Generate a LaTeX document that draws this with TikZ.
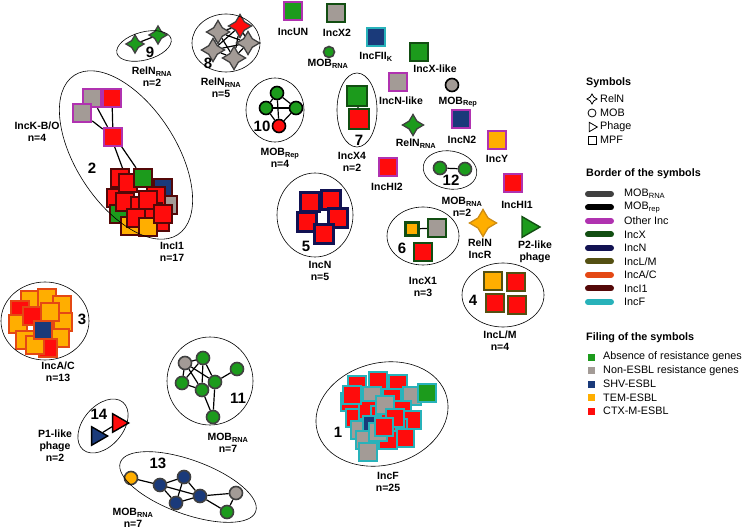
\documentclass[tikz,border=0pt]{standalone}
\usepackage{fontspec}
\setmainfont{Liberation Sans}
\usetikzlibrary{shapes.geometric, backgrounds}
\definecolor{fGreen}{RGB}{28,155,28}
\definecolor{fGray}{RGB}{163,155,150}
\definecolor{fBlue}{RGB}{26,58,122}
\definecolor{fOrange}{RGB}{255,174,0}
\definecolor{fRed}{RGB}{255,12,12}
\definecolor{bRNA}{RGB}{64,64,64}
\definecolor{bRep}{RGB}{0,0,0}
\definecolor{bOther}{RGB}{176,50,176}
\definecolor{bX}{RGB}{18,78,18}
\definecolor{bN}{RGB}{18,18,82}
\definecolor{bLM}{RGB}{84,80,18}
\definecolor{bAC}{RGB}{228,72,20}
\definecolor{bI}{RGB}{84,8,8}
\definecolor{bF}{RGB}{40,178,186}
\definecolor{bR}{RGB}{205,140,20}
\tikzset{
  lbl/.style={font=\fontsize{10.5}{12}\selectfont\bfseries, align=center, inner sep=0pt},
  num/.style={font=\fontsize{15}{15}\selectfont\bfseries, inner sep=0pt},
  hull/.style={draw, line width=0.6pt},
  mpf/.style={rectangle, draw, line width=2.4pt, minimum size=18pt, inner sep=0pt},
  mob/.style={circle, draw, line width=1.6pt, minimum size=13pt, inner sep=0pt},
  reln/.style={star, star points=4, star point ratio=1.9, draw, line width=1.3pt, minimum size=23pt, inner sep=0pt},
  phage/.style={isosceles triangle, isosceles triangle apex angle=60, draw, line width=1.4pt, minimum size=16pt, inner sep=0pt},
  link/.style={line width=1.2pt},
  keytxt/.style={font=\fontsize{10.8}{12}\selectfont, anchor=west, inner sep=0pt},
  keyhead/.style={font=\fontsize{10.8}{12}\selectfont\bfseries, anchor=west, inner sep=0pt},
  keymark/.style={draw, line width=0.8pt, inner sep=0pt}
}
\begin{document}
\begin{tikzpicture}[x=1pt, y=-1pt]
  \useasboundingbox (0,0) rectangle (747,529);

  % 9
  \node[reln, fill=fGreen, draw=bRNA, minimum size=18pt] (s9a) at (135,44) {};
  \node[reln, fill=fGreen, draw=bRNA, minimum size=18pt] (s9b) at (158,35) {};
  \node[num] (n9) at (150,52) {9};
  \node[lbl] (l9) at (152,77) {RelN\textsubscript{RNA}\\n=2};
  \draw[hull, rotate around={15:(144,46)}] (144,46) ellipse [x radius=28, y radius=14];

  % 8
  \foreach \p/\x/\y/\c in {a/218/32/fGray, b/240/26/fRed, c/213/50/fGray, d/234/58/fGray, e/248/43/fGray}
    \node[reln, fill=\c, draw=bRNA] (s8\p) at (\x,\y) {};
  \node[num] (n8) at (208,63) {8};
  \node[lbl] (l8) at (221,88) {RelN\textsubscript{RNA}\\n=5};
  \draw[hull] (226,43) ellipse [x radius=34, y radius=29];

  % 2 : IncK-B/O + IncI1
  \node[mpf, fill=fGray, draw=bOther] (k1) at (92,98) {};
  \node[mpf, fill=fRed, draw=bOther] (k2) at (112,98) {};
  \node[mpf, fill=fGray, draw=bOther] (k3) at (82,113) {};
  \node[mpf, fill=fRed, draw=bOther] (k4) at (113,137) {};
  \foreach \x/\y/\c [count=\i] in {120/178/fRed, 116/198/fRed, 163/188/fBlue, 168/205/fGray, 160/222/fRed,
      119/214/fGreen, 130/226/fOrange, 128/183/fRed, 156/196/fRed, 125/202/fRed, 140/206/fRed,
      153/212/fRed, 136/218/fRed, 148/227/fOrange, 143/178/fGreen, 148/200/fRed, 163/214/fRed}
    \node[mpf, fill=\c, draw=bI] (ia\i) at (\x,\y) {};
  \node[num] (n2) at (92,168) {2};
  \node[lbl] (l2a) at (37,132) {IncK-B/O\\n=4};
  \node[lbl] (l2b) at (172,252) {IncI1\\n=17};
  \draw[hull, rotate around={-57:(126,155)}] (126,155) ellipse [x radius=95, y radius=50];

  % singletons
  \node[mpf, fill=fGreen, draw=bOther] (un) at (293,11) {};
  \node[lbl] (lun) at (293,32) {IncUN};
  \node[mpf, fill=fGray, draw=bX] (x2) at (336,13) {};
  \node[lbl] (lx2) at (337,33) {IncX2};
  \node[mob, fill=fGreen, draw=bRNA, minimum size=11pt] (m1) at (329,52) {};
  \node[lbl] (lm1) at (328,64) {MOB\textsubscript{RNA}};
  \node[mpf, fill=fBlue, draw=bF] (fk) at (376,37) {};
  \node[lbl] (lfk) at (376,57) {IncFII\textsubscript{K}};
  \node[mpf, fill=fGreen, draw=bX] (xl) at (419,52) {};
  \node[lbl] (lxl) at (435,69) {IncX-like};
  \node[mpf, fill=fGray, draw=bOther] (nl) at (398,82) {};
  \node[lbl] (lnl) at (401,101) {IncN-like};
  \node[mob, fill=fGray, draw=bRep] (m2) at (452,85) {};
  \node[lbl] (lm2) at (458,102) {MOB\textsubscript{Rep}};
  \node[reln, fill=fGreen, draw=bRNA, minimum size=21pt] (rs) at (413,125) {};
  \node[lbl] (lrs) at (416,144) {RelN\textsubscript{RNA}};
  \node[mpf, fill=fBlue, draw=bOther] (n2b) at (461,119) {};
  \node[lbl] (ln2b) at (462,140) {IncN2};
  \node[mpf, fill=fRed, draw=bOther] (hi2) at (388,167) {};
  \node[lbl] (lhi2) at (387,187) {IncHI2};
  \node[mpf, fill=fOrange, draw=bOther] (iy) at (497,140) {};
  \node[lbl] (liy) at (497,159) {IncY};
  \node[mpf, fill=fRed, draw=bOther] (hi1) at (513,183) {};
  \node[lbl] (lhi1) at (517,205) {IncHI1};
  \node[reln, fill=fOrange, draw=bR, minimum size=27pt] (rr) at (483,223) {};
  \node[lbl] (lrr) at (480,249) {RelN\\IncR};
  \node[phage, fill=fGreen, draw=bX, minimum size=18pt] (p2) at (528,227) {};
  \node[lbl] (lp2) at (535,252) {P2-like\\phage};

  % 10
  \node[mob, fill=fGreen, draw=bRep] (c10a) at (277,93) {};
  \node[mob, fill=fGreen, draw=bRep] (c10b) at (266,108) {};
  \node[mob, fill=fGreen, draw=bRep] (c10c) at (296,108) {};
  \node[mob, fill=fRed, draw=bRep] (c10d) at (279,126) {};
  \node[num] (n10) at (262,126) {10};
  \node[lbl] (l10) at (280,158) {MOB\textsubscript{Rep}\\n=4};
  \draw[hull] (275,110) ellipse [x radius=29, y radius=32];

  % 7
  \node[mpf, fill=fGreen, draw=bX, minimum size=20pt] (q7a) at (357,96) {};
  \node[mpf, fill=fRed, draw=bX, minimum size=20pt] (q7b) at (359,119) {};
  \node[num] (n7) at (359,140) {7};
  \node[lbl] (l7) at (352,162) {IncX4\\n=2};
  \draw[hull] (357,110) ellipse [x radius=20, y radius=37];

  % 12
  \node[mob, fill=fGreen, draw=bRNA] (c12a) at (440,168) {};
  \node[mob, fill=fGreen, draw=bRNA] (c12b) at (465,169) {};
  \node[num] (n12) at (451,180) {12};
  \node[lbl] (l12) at (462,207) {MOB\textsubscript{RNA}\\n=2};
  \draw[hull, rotate around={-10:(450,170)}] (450,170) ellipse [x radius=27, y radius=19];

  % 5
  \foreach \x/\y [count=\i] in {310/202, 331/200, 307/222, 338/218, 324/234}
    \node[mpf, fill=fRed, draw=bN, minimum size=19pt] (q5\i) at (\x,\y) {};
  \node[num] (n5) at (306,246) {5};
  \node[lbl] (l5) at (320,271) {IncN\\n=5};
  \draw[hull] (315,215) ellipse [x radius=38, y radius=42];

  % 6
  \node[mpf, fill=fOrange, draw=bX, minimum size=13pt] (q6a) at (412,229) {};
  \node[mpf, fill=fGray, draw=bX] (q6b) at (437,228) {};
  \node[mpf, fill=fRed, draw=bX] (q6c) at (423,252) {};
  \node[num] (n6) at (402,248) {6};
  \node[lbl] (l6) at (423,287) {IncX1\\n=3};
  \draw[hull] (423,236) ellipse [x radius=36, y radius=29];

  % 4
  \foreach \x/\y/\c [count=\i] in {493/281/fOrange, 516/282/fRed, 495/303/fRed, 517/305/fRed}
    \node[mpf, fill=\c, draw=bLM] (q4\i) at (\x,\y) {};
  \node[num] (n4) at (473,300) {4};
  \node[lbl] (l4) at (500,341) {IncL/M\\n=4};
  \draw[hull] (503,295) ellipse [x radius=41, y radius=32];

  % 3
  \foreach \x/\y/\c [count=\i] in {30/300/fOrange, 47/298/fOrange, 62/305/fOrange, 20/310/fRed, 18/324/fOrange,
      63/322/fOrange, 32/316/fRed, 25/340/fOrange, 60/338/fOrange, 48/348/fRed, 35/345/fOrange,
      50/312/fOrange, 43/330/fBlue}
    \node[mpf, fill=\c, draw=bAC] (ac\i) at (\x,\y) {};
  \node[num] (n3) at (82,319) {3};
  \node[lbl] (l3) at (58,372) {IncA/C\\n=13};
  \draw[hull] (45,321) ellipse [x radius=44, y radius=39];

  % 14
  \node[phage, fill=fBlue, draw=black] (t14a) at (97,436) {};
  \node[phage, fill=fRed, draw=black] (t14b) at (118,423) {};
  \node[num] (n14) at (99,414) {14};
  \node[lbl] (l14) at (55,446) {P1-like\\phage\\n=2};
  \draw[hull, rotate around={50:(103,426)}] (103,426) ellipse [x radius=31, y radius=20];

  % 11
  \foreach \p/\x/\y/\c in {g/185/363/fGray, a/203/358/fGreen, c/237/369/fGreen, d/182/383/fGreen,
      e/202/390/fGreen, f/215/382/fGreen, h/213/417/fGreen}
    \node[mob, fill=\c, draw=bRNA] (c11\p) at (\x,\y) {};
  \node[num] (n11) at (238,398) {11};
  \node[lbl] (l11) at (228,443) {MOB\textsubscript{RNA}\\n=7};
  \draw[hull] (210,381) ellipse [x radius=43, y radius=44];

  % 13
  \foreach \p/\x/\y/\c in {o/131/478/fOrange, a/160/485/fBlue, b/184/477/fBlue, c/176/503/fBlue,
      d/200/496/fBlue, g/236/493/fGray, h/227/512/fGreen}
    \node[mob, fill=\c, draw=bRNA] (c13\p) at (\x,\y) {};
  \node[num] (n13) at (158,463) {13};
  \node[lbl] (l13) at (133,518) {MOB\textsubscript{RNA}\\n=7};
  \draw[hull, rotate around={-20:(188,487)}] (188,487) ellipse [x radius=72, y radius=27];

  % 1
  \foreach \x/\y/\c [count=\i] in {357/385/fRed, 378/381/fRed, 398/384/fRed, 350/402/fRed, 372/396/fGray,
      392/398/fRed, 412/396/fGray, 355/418/fRed, 368/410/fRed, 402/410/fRed, 360/430/fGray,
      380/415/fRed, 412/420/fRed, 372/425/fBlue, 398/428/fRed, 365/440/fGray, 405/438/fRed,
      388/440/fRed, 352/395/fRed, 385/405/fGray, 395/418/fRed, 378/432/fGray, 384/427/fRed,
      368/452/fGray, 427/393/fGreen}
    \node[mpf, fill=\c, draw=bF] (f\i) at (\x,\y) {};
  \node[num] (n1) at (338,432) {1};
  \node[lbl] (l1) at (388,482) {IncF\\n=25};
  \draw[hull, rotate around={15:(382,414)}] (382,414) ellipse [x radius=67, y radius=51];

  \begin{scope}[on background layer]
    \draw[link] (s9a) -- (s9b);
    \foreach \u/\v in {a/b, a/c, a/d, a/e, b/c, b/d, b/e, c/d, c/e, d/e}
      \draw[link] (s8\u) -- (s8\v);
    \draw[link] (k1) -- (k4);
    \draw[link] (k3) -- (k4);
    \draw[link] (k2) -- (k4);
    \draw[link] ([xshift=-2pt]k4.center) -- (ia8);
    \draw[link] ([xshift=2pt]k4.center) -- (ia15);
    \foreach \u/\v in {a/b, a/c, a/d, b/c, b/d, c/d}
      \draw[link] (c10\u) -- (c10\v);
    \draw[link] (q7a) -- (q7b);
    \draw[link] (c12a) -- (c12b);
    \draw[link] (q6a) -- (q6b);
    \draw[link] (t14a) -- (t14b);
    \foreach \u/\v in {g/a, g/d, g/e, g/f, a/d, a/e, a/f, d/e, e/f, f/c, f/h, e/h}
      \draw[link] (c11\u) -- (c11\v);
    \foreach \u/\v in {o/a, a/b, a/c, a/d, b/c, b/d, c/d, d/g, d/h, g/h}
      \draw[link] (c13\u) -- (c13\v);
  \end{scope}

  % legend
  \node[keyhead] (hsym) at (586,83) {Symbols};
  \node[keymark, star, star points=4, star point ratio=1.9, minimum size=10pt] (ks1) at (592,99) {};
  \node[keymark, circle, minimum size=8pt] (ks2) at (592,113) {};
  \node[keymark, isosceles triangle, isosceles triangle apex angle=60, minimum size=8pt] (ks3) at (592,127) {};
  \node[keymark, rectangle, minimum size=8pt] (ks4) at (592,140) {};
  \node[keytxt] (ts1) at (600,99) {RelN};
  \node[keytxt] (ts2) at (600,113) {MOB};
  \node[keytxt] (ts3) at (600,127) {Phage};
  \node[keytxt] (ts4) at (600,140) {MPF};

  \node[keyhead] (hbor) at (586,174) {Border of the symbols};
  \foreach \y/\c/\t [count=\i] in {194/bRNA/MOB\textsubscript{RNA}, 207.5/bRep/MOB\textsubscript{rep},
      221/bOther/Other Inc, 234.5/bX/IncX, 248/bN/IncN, 261.5/bLM/{IncL/M}, 275/bAC/{IncA/C},
      288.5/bI/IncI1, 302/bF/IncF}
  {
    \draw[line width=6pt, line cap=round, \c] (588,\y) -- (611,\y);
    \node[keytxt] (tb\i) at (624,\y) {\t};
  }

  \node[keyhead] (hfil) at (586,338) {Filing of the symbols};
  \foreach \y/\c/\t [count=\i] in {357/fGreen/Absence of resistance genes, 370.5/fGray/Non-ESBL resistance genes,
      384/fBlue/SHV-ESBL, 397.5/fOrange/TEM-ESBL, 411/fRed/CTX-M-ESBL}
  {
    \node[rectangle, fill=\c, minimum size=7pt, inner sep=0pt] (kf\i) at (591,\y) {};
    \node[keytxt] (tf\i) at (603,\y) {\t};
  }
\end{tikzpicture}
\end{document}
